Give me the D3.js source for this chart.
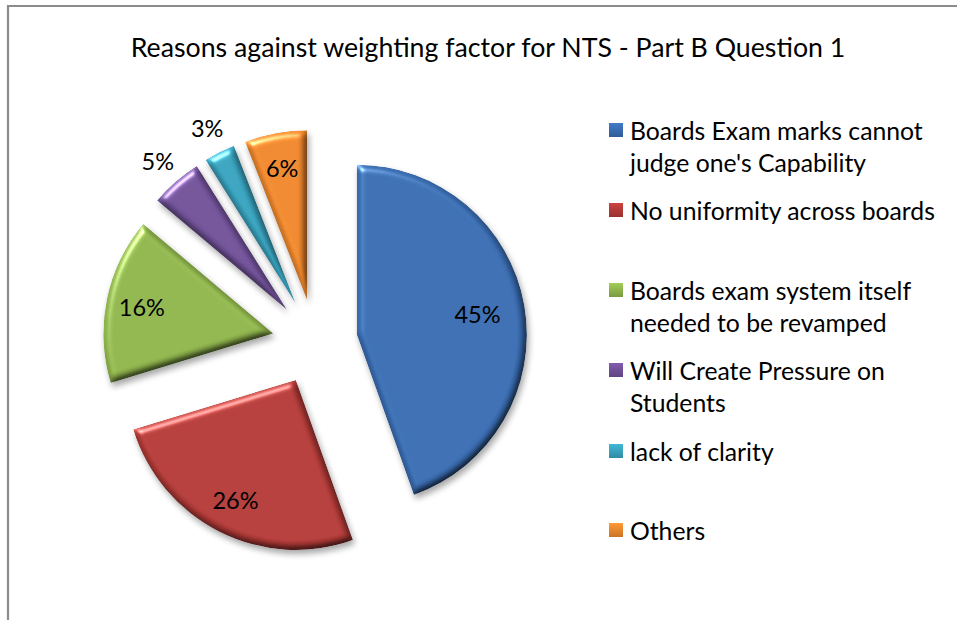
<!DOCTYPE html>
<html>
<head>
<meta charset="utf-8">
<script src="https://cdn.jsdelivr.net/npm/d3@7"></script>
<style>
  html, body { margin: 0; padding: 0; background: #ffffff; }
  svg { display: block; }
  text { font-family: "Lato", "Open Sans", sans-serif; fill: #000; }
</style>
</head>
<body>
<svg id="chart" width="957" height="620"></svg>
<script>
// Survey responses (percent of respondents)
const categories = [
  "Boards Exam marks cannot judge one's Capability",
  "No uniformity across boards",
  "Boards exam system itself needed to be revamped",
  "Will Create Pressure on Students",
  "lack of clarity",
  "Others"
];
const legendLines = [
  ["Boards Exam marks cannot", "judge one's Capability"],
  ["No uniformity across boards"],
  ["Boards exam system itself", "needed to be revamped"],
  ["Will Create Pressure on", "Students"],
  ["lack of clarity"],
  ["Others"]
];
const values = [45, 26, 16, 5, 3, 6];
const colors = ["#386aae", "#b13a37", "#8db24b", "#6f5096", "#37a0bb", "#ea852c"];
const title = "Reasons against weighting factor for NTS - Part B Question 1";

const svg = d3.select("#chart");
const W = 957, H = 620;

// chart frame
svg.append("path")
  .attr("d", `M8,${H} V6 H${W}`)
  .attr("fill", "none")
  .attr("stroke", "#8c8c8c")
  .attr("stroke-width", 2.2);

// bevel + shadow filter for slices
const defs = svg.append("defs");
const f = defs.append("filter").attr("id", "bevel")
  .attr("color-interpolation-filters", "sRGB")
  .attr("x", "-20%").attr("y", "-20%").attr("width", "140%").attr("height", "140%");
f.append("feGaussianBlur").attr("in", "SourceAlpha").attr("stdDeviation", 3.5).attr("result", "blur");
const spec = f.append("feSpecularLighting").attr("in", "blur").attr("surfaceScale", 4)
  .attr("specularConstant", 0.6).attr("specularExponent", 30)
  .attr("lighting-color", "#ffffff").attr("result", "spec");
spec.append("feDistantLight").attr("azimuth", 235).attr("elevation", 40);
f.append("feComposite").attr("in", "spec").attr("in2", "SourceAlpha").attr("operator", "in").attr("result", "specIn");
const diff = f.append("feDiffuseLighting").attr("in", "blur").attr("surfaceScale", 4)
  .attr("diffuseConstant", 1.15).attr("lighting-color", "#ffffff").attr("result", "diff");
diff.append("feDistantLight").attr("azimuth", 235).attr("elevation", 60);
f.append("feComposite").attr("in", "SourceGraphic").attr("in2", "diff").attr("operator", "arithmetic")
  .attr("k1", 1).attr("k2", 0).attr("k3", 0).attr("k4", 0).attr("result", "shaded");
f.append("feComposite").attr("in", "shaded").attr("in2", "specIn").attr("operator", "arithmetic")
  .attr("k1", 0).attr("k2", 1).attr("k3", 1).attr("k4", 0).attr("result", "lit");
f.append("feComposite").attr("in", "lit").attr("in2", "SourceAlpha").attr("operator", "in").attr("result", "litIn");
f.append("feGaussianBlur").attr("in", "SourceAlpha").attr("stdDeviation", 3).attr("result", "sblur");
f.append("feOffset").attr("in", "sblur").attr("dx", 2).attr("dy", 4).attr("result", "soff");
const ct = f.append("feComponentTransfer").attr("in", "soff").attr("result", "shadow");
ct.append("feFuncA").attr("type", "linear").attr("slope", 0.35);
const merge = f.append("feMerge");
merge.append("feMergeNode").attr("in", "shadow");
merge.append("feMergeNode").attr("in", "litIn");

// fit a text element's font size to a target width
function fitWidth(sel, base, target) {
  sel.style("font-size", base + "px");
  const w = sel.node().getComputedTextLength();
  const size = base * target / w;
  sel.style("font-size", size.toFixed(2) + "px");
  return size;
}

// title
const titleText = svg.append("text")
  .attr("x", 488).attr("y", 57)
  .attr("text-anchor", "middle")
  .text(title);
fitWidth(titleText, 24, 715);

// exploded pie
const cx = 315, cy = 342, R = 170, explode = 42.5;
const pie = d3.pie().sort(null).value(d => d);
const arcs = pie(values);
const arc = d3.arc().innerRadius(0).outerRadius(R);

const slices = svg.append("g").attr("transform", `translate(${cx},${cy})`);
arcs.forEach(a => {
  const mid = (a.startAngle + a.endAngle) / 2;
  a.ox = explode * Math.sin(mid);
  a.oy = -explode * Math.cos(mid);
  a.mid = mid;
});
slices.selectAll("path.slice")
  .data(arcs)
  .join("path")
  .attr("class", "slice")
  .attr("transform", d => `translate(${d.ox},${d.oy})`)
  .attr("d", arc)
  .attr("fill", (d, i) => colors[i])
  .attr("filter", "url(#bevel)");

// percentage labels: outside for the thin slices, further in for the widest one
const labelR = d => (d.data < 6 ? 1.16 : d.data > 40 ? 0.72 : 0.79) * R;
slices.selectAll("text.pct")
  .data(arcs)
  .join("text")
  .attr("class", "pct")
  .attr("text-anchor", "middle")
  .attr("dominant-baseline", "central")
  .style("font-size", "23.5px")
  .attr("x", d => d.ox + labelR(d) * Math.sin(d.mid))
  .attr("y", d => d.oy - labelR(d) * Math.cos(d.mid))
  .text(d => d.data + "%");

// legend
const legendTop = [130, 210, 290, 370, 451, 530];
const probe = svg.append("text").text(legendLines[1][0]);
const legendSize = fitWidth(probe, 22, 305);
probe.remove();
const lg = svg.append("g");
legendLines.forEach((lines, i) => {
  const g = lg.append("g").attr("transform", `translate(0,${legendTop[i]})`);
  const grad = defs.append("linearGradient").attr("id", "lg" + i)
    .attr("x1", 0).attr("y1", 0).attr("x2", 0).attr("y2", 1);
  grad.append("stop").attr("offset", "0%").attr("stop-color", d3.color(colors[i]).brighter(0.4));
  grad.append("stop").attr("offset", "100%").attr("stop-color", d3.color(colors[i]).darker(0.4));
  g.append("rect")
    .attr("x", 609).attr("y", -7)
    .attr("width", 14).attr("height", 14)
    .attr("fill", `url(#lg${i})`);
  lines.forEach((ln, j) => {
    g.append("text")
      .attr("x", 630).attr("y", j * 32)
      .attr("dominant-baseline", "central")
      .style("font-size", legendSize.toFixed(2) + "px")
      .text(ln);
  });
});
</script>
</body>
</html>
